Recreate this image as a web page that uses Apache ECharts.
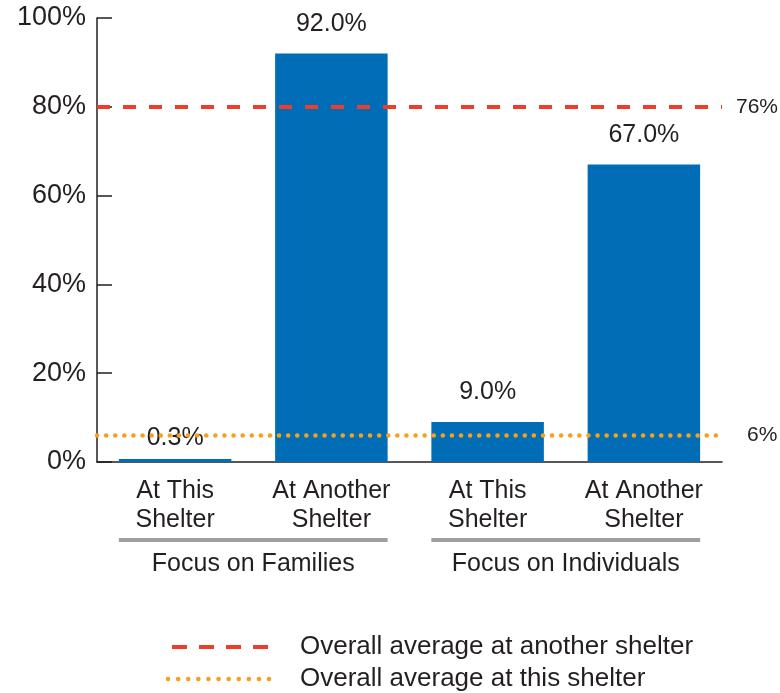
<!DOCTYPE html>
<html>
<head>
<meta charset="utf-8">
<script src="https://cdn.jsdelivr.net/npm/echarts@6/dist/echarts.min.js"></script>
<style>
  html, body { margin: 0; padding: 0; background: #fff; }
  #chart { width: 780px; height: 693px; }
</style>
</head>
<body>
<div id="chart"></div>
<script>
// categories and values
var categories = ['At This\nShelter', 'At Another\nShelter', 'At This\nShelter', 'At Another\nShelter'];
var shares = [0.3, 92.0, 9.0, 67.0];
var groups = ['Focus on Families', 'Focus on Individuals'];
var yTicks = [0, 20, 40, 60, 80, 100];
// reference lines: where drawn, and what the label says
var avgNames = ['Overall average at another shelter', 'Overall average at this shelter'];
var avgValues = [80, 6];
var avgLabels = ['76%', '6%'];

var FONT = '"Liberation Sans", Arial, Helvetica, sans-serif';
var TEXT = '#231f20';
var RED = '#ee3d2b';
var ORANGE = '#f7a01e';

var myChart = echarts.init(document.getElementById('chart'));

// tiny bars get their label tucked down a little, like the original
var barData = shares.map(function (v) {
  return v < 1 ? { value: v, label: { distance: 8 } } : v;
});

var option = {
  animation: false,
  textStyle: { fontFamily: FONT, color: TEXT },
  grid: { left: 97, right: 58, top: 18, bottom: 231 },
  xAxis: [
    {
      type: 'category',
      data: categories,
      axisLine: { lineStyle: { color: '#231f20', width: 1.5 } },
      axisTick: { inside: true, length: 10, lineStyle: { color: '#231f20', width: 1.5 } },
      axisLabel: { fontFamily: FONT, fontSize: 25, lineHeight: 29, color: TEXT, margin: 15 }
    },
    {
      type: 'category',
      data: groups,
      position: 'bottom',
      offset: 90,
      axisLine: { show: false },
      axisTick: { show: false },
      axisLabel: { fontFamily: FONT, fontSize: 25, color: TEXT, margin: 0 }
    }
  ],
  yAxis: {
    type: 'value',
    min: yTicks[0],
    max: yTicks[yTicks.length - 1],
    interval: 20,
    splitLine: { show: false },
    axisLine: { show: true, lineStyle: { color: '#231f20', width: 1.5 } },
    axisTick: { show: true, inside: true, length: 15, lineStyle: { color: '#231f20', width: 1.5 } },
    axisLabel: {
      fontFamily: FONT, fontSize: 27, color: TEXT, margin: 11,
      formatter: function (v) { return v + '%'; }
    }
  },
  series: [
    {
      type: 'bar',
      data: barData,
      barCategoryGap: '28%',
      barMinHeight: 3,
      itemStyle: { color: '#006db6' },
      label: {
        show: true,
        position: 'top',
        distance: 17,
        fontFamily: FONT,
        fontSize: 25,
        color: TEXT,
        formatter: function (p) { return p.value.toFixed(1) + '%'; }
      },
      z: 2
    },
    {
      name: avgNames[0],
      type: 'line',
      data: [],
      symbol: 'none',
      markLine: {
        silent: true,
        symbol: 'none',
        lineStyle: { color: RED, width: 4, type: [13, 13] },
        label: { position: 'end', distance: 14, fontFamily: FONT, fontSize: 21, color: TEXT,
          formatter: function () { return avgLabels[0]; } },
        data: [{ yAxis: avgValues[0] }]
      },
      z: 5
    },
    {
      name: avgNames[1],
      type: 'line',
      data: [],
      symbol: 'none',
      markLine: {
        silent: true,
        symbol: 'none',
        lineStyle: { color: ORANGE, width: 4.5, type: [0.1, 9], cap: 'round' },
        label: { position: 'end', distance: 25, fontFamily: FONT, fontSize: 21, color: TEXT,
          formatter: function () { return avgLabels[1]; } },
        data: [{ yAxis: avgValues[1] }]
      },
      z: 5
    }
  ]
};

myChart.setOption(option);

// grey brackets under each pair of bars, placed from the category axis, plus the key
function drawExtras() {
  var half = 0.36;
  var yPix = myChart.convertToPixel({ yAxisIndex: 0 }, 0) + 78;
  var els = [];
  for (var g = 0; g < groups.length; g++) {
    var a = myChart.convertToPixel({ xAxisIndex: 0 }, g * 2);
    var b = myChart.convertToPixel({ xAxisIndex: 0 }, g * 2 + 1);
    var w = (b - a) * half;
    els.push({
      type: 'line',
      shape: { x1: a - w, y1: yPix, x2: b + w, y2: yPix },
      style: { stroke: '#9d9fa2', lineWidth: 4 }
    });
  }
  // key
  els.push({
    type: 'line',
    shape: { x1: 172, y1: 647, x2: 268, y2: 647 },
    style: { stroke: RED, lineWidth: 4, lineDash: [15, 12] }
  });
  els.push({
    type: 'line',
    shape: { x1: 168, y1: 679, x2: 270, y2: 679 },
    style: { stroke: ORANGE, lineWidth: 4.5, lineDash: [0.1, 10], lineCap: 'round' }
  });
  for (var i = 0; i < avgNames.length; i++) {
    els.push({
      type: 'text',
      x: 300,
      y: 647 + i * 32,
      style: { text: avgNames[i], font: '26px ' + FONT, fill: TEXT, verticalAlign: 'middle' }
    });
  }
  myChart.setOption({ graphic: els });
}
drawExtras();

window.addEventListener('resize', function () {
  myChart.resize();
  drawExtras();
});
</script>
</body>
</html>
